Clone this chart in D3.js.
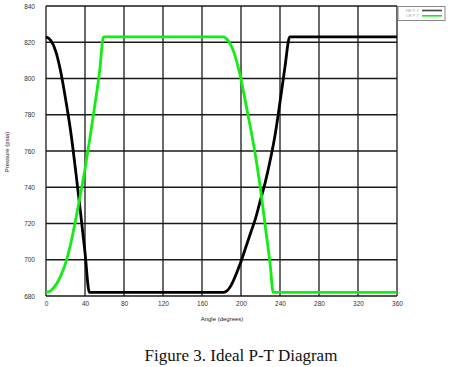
<!DOCTYPE html>
<html><head><meta charset="utf-8">
<script src="https://cdn.jsdelivr.net/npm/d3@7"></script>
<style>body{margin:0;background:#fff}svg{display:block}</style>
</head><body>
<svg id="c" width="450" height="367"></svg>
<script>
// Data
const xTicks = [0,40,80,120,160,200,240,280,320,360];
const yTicks = [680,700,720,740,760,780,800,820,840];
const seriesNames = ["HE P-T","CE P-T"];
const heAngle = [0,5,10,15,20,25,30,35,40,44.5,180,182,186,190,195,200,205,210,215,220,225,230,235,240,245,250,360];
const hePress = [823,821,815,804,789,772,751,728,704,682,682,682,683,686,692,699,707,715,723,733,743,755,769,787,806,823,823];
const ceAngle = [0,5,10,15,20,25,30,35,40,45,50,55,59,182,185,188,193,199,205,210,215,220,225,230,233,360];
const cePress = [682,683,686,691,698,708,721,735,750,767,785,804,823,823,822,820,814,802,786,772,757,739,718,697,682,682];

const svg = d3.select("#c");
const L=46,R=397,T=6,B=296;
const x = d3.scaleLinear().domain([0,360]).range([L,R]);
const y = d3.scaleLinear().domain([680,840]).range([B,T]);

const g = svg.append("g");
g.selectAll(".vg").data(xTicks).join("line")
  .attr("x1",d=>x(d)).attr("x2",d=>x(d)).attr("y1",T).attr("y2",B)
  .attr("stroke","#1a1a1a").attr("stroke-width",1.3);
g.selectAll(".hg").data(yTicks).join("line")
  .attr("x1",L).attr("x2",R).attr("y1",d=>y(d)).attr("y2",d=>y(d))
  .attr("stroke","#1a1a1a").attr("stroke-width",1.3);

const xAxis = d3.axisBottom(x).tickValues(xTicks).tickSize(0).tickPadding(5).tickFormat(d3.format("d"));
const ax = svg.append("g").attr("transform",`translate(0,${B})`).call(xAxis);
ax.select(".domain").remove();
ax.selectAll("text").attr("font-family","Liberation Sans, Arial, sans-serif").attr("font-size",6.5).attr("fill","#333");
const yAxis = d3.axisLeft(y).tickValues(yTicks).tickSize(0).tickPadding(11).tickFormat(d3.format("d"));
const ay = svg.append("g").attr("transform",`translate(${L},0)`).call(yAxis);
ay.select(".domain").remove();
ay.selectAll("text").attr("font-family","Liberation Sans, Arial, sans-serif").attr("font-size",6.5).attr("fill","#333");

const line = d3.line().curve(d3.curveMonotoneX);
const heData = heAngle.map((a,i)=>[x(a),y(hePress[i])]);
const ceData = ceAngle.map((a,i)=>[x(a),y(cePress[i])]);
svg.append("path").attr("d",line(heData)).attr("fill","none").attr("stroke","#000").attr("stroke-width",2.8).attr("stroke-linejoin","round");
svg.append("path").attr("d",line(ceData)).attr("fill","none").attr("stroke","#11ee11").attr("stroke-width",2.8).attr("stroke-linejoin","round");

const lg = svg.append("g");
lg.append("rect").attr("x",398).attr("y",6.5).attr("width",47).attr("height",14)
  .attr("fill","#fff").attr("stroke","#888").attr("stroke-width",1);
const legendColors = ["#444","#11ee11"];
seriesNames.forEach((n,i)=>{
  const yy = 10.5 + i*5.3;
  lg.append("text").attr("x",419).attr("y",yy+1.5).attr("text-anchor","end")
    .attr("font-family","Liberation Sans, Arial, sans-serif").attr("font-size",4).attr("fill","#aaa").text(n);
  lg.append("line").attr("x1",422).attr("x2",442).attr("y1",yy).attr("y2",yy)
    .attr("stroke",legendColors[i]).attr("stroke-width",1.6);
});

svg.append("text").attr("x",222).attr("y",321).attr("text-anchor","middle")
  .attr("font-family","Liberation Sans, Arial, sans-serif").attr("font-size",6).attr("fill","#222").text("Angle (degrees)");
svg.append("text").attr("transform","translate(9,152) rotate(-90)").attr("text-anchor","middle")
  .attr("font-family","Liberation Sans, Arial, sans-serif").attr("font-size",6).attr("fill","#222").text("Pressure (psia)");

svg.append("text").attr("x",241).attr("y",361).attr("text-anchor","middle")
  .attr("font-family","Liberation Serif, Times New Roman, serif").attr("font-size",17).attr("fill","#111").text("Figure 3. Ideal P-T Diagram");
</script>
</body></html>
